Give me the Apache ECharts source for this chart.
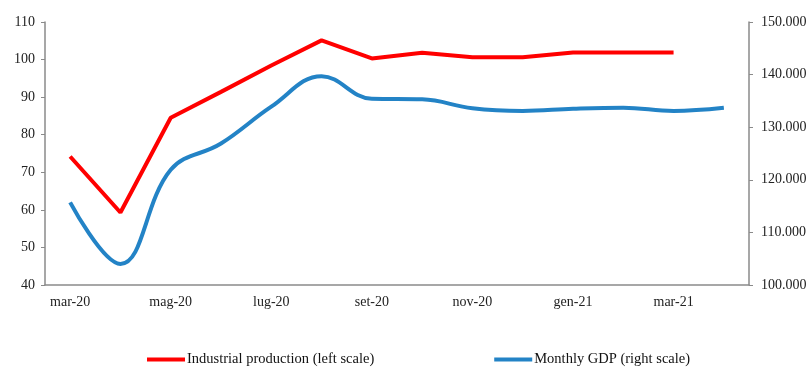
<!DOCTYPE html>
<html>
<head>
<meta charset="utf-8">
<script src="https://cdn.jsdelivr.net/npm/echarts@6/dist/echarts.min.js"></script>
<style>
  html, body { margin: 0; padding: 0; background: #fff; }
  #chart { width: 811px; height: 367px; }
</style>
</head>
<body>
<div id="chart"></div>
<script>
// Months, March 2020 to April 2021
const months = ['mar-20', 'apr-20', 'mag-20', 'giu-20', 'lug-20', 'ago-20', 'set-20',
  'ott-20', 'nov-20', 'dic-20', 'gen-21', 'feb-21', 'mar-21', 'apr-21'];

// Industrial production index (left scale); April 2021 not yet available
const industrialProduction = [74.2, 59.3, 84.5, 91.4, 98.4, 105.1, 100.3,
  101.8, 100.6, 100.6, 101.9, 101.9, 101.9, null];

// Monthly GDP (right scale)
const monthlyGdp = [115.7, 104.0, 121.9, 126.9, 133.9, 139.7, 135.4,
  135.3, 133.6, 133.1, 133.5, 133.7, 133.1, 133.7];

const leftName = 'Industrial production (left scale)';
const rightName = 'Monthly GDP (right scale)';

const axisGrey = '#8a8a8a';
const font = 'Liberation Serif, Times New Roman, serif';
const txt = { color: '#222', fontFamily: font, fontSize: 14 };

const chart = echarts.init(document.getElementById('chart'), null, { renderer: 'canvas' });

chart.setOption({
  animation: false,
  backgroundColor: '#fff',
  grid: { left: 45, right: 62, top: 22, bottom: 82, containLabel: false },
  legend: {
    left: 147,
    top: 352,
    padding: 0,
    itemGap: 120,
    itemWidth: 38,
    itemHeight: 4,
    icon: 'rect',
    textStyle: Object.assign({}, txt, { fontSize: 14.5, color: '#111', padding: [0, 0, 0, -3] }),
    data: [leftName, rightName]
  },
  xAxis: [
    {
      type: 'category',
      data: months,
      boundaryGap: true,
      axisLine: { lineStyle: { color: axisGrey, width: 1.5 } },
      axisTick: { interval: 0, inside: true, length: 3, lineStyle: { color: axisGrey } },
      axisLabel: Object.assign({ interval: 1, margin: 10 }, txt),
      splitLine: { show: false }
    },
    {
      // overlay carrying the longer outward ticks every second month
      type: 'category',
      data: months,
      position: 'bottom',
      boundaryGap: true,
      axisLine: { show: false },
      axisTick: { interval: 1, inside: false, length: 4, lineStyle: { color: axisGrey } },
      axisLabel: { show: false },
      splitLine: { show: false }
    }
  ],
  yAxis: [
    {
      type: 'value',
      min: 40,
      max: 110,
      interval: 10,
      position: 'left',
      axisLine: { show: true, lineStyle: { color: axisGrey, width: 1.5 } },
      axisTick: { show: true, length: 4, lineStyle: { color: axisGrey } },
      axisLabel: Object.assign({ margin: 10 }, txt),
      splitLine: { show: false }
    },
    {
      type: 'value',
      min: 100,
      max: 150,
      interval: 10,
      position: 'right',
      axisLine: { show: true, lineStyle: { color: axisGrey, width: 1.5 } },
      axisTick: { show: true, length: 4, lineStyle: { color: axisGrey } },
      axisLabel: Object.assign({ margin: 12, formatter: v => v.toFixed(3) }, txt),
      splitLine: { show: false }
    }
  ],
  series: [
    {
      name: leftName,
      type: 'line',
      xAxisIndex: 0,
      yAxisIndex: 0,
      data: industrialProduction,
      showSymbol: false,
      symbol: 'none',
      smooth: false,
      connectNulls: false,
      color: '#ff0000',
      lineStyle: { color: '#ff0000', width: 4 }
    },
    {
      name: rightName,
      type: 'line',
      xAxisIndex: 0,
      yAxisIndex: 1,
      data: monthlyGdp,
      showSymbol: false,
      symbol: 'none',
      smooth: 0.4,
      color: '#2383c6',
      lineStyle: { color: '#2383c6', width: 4 }
    }
  ]
});
</script>
</body>
</html>
